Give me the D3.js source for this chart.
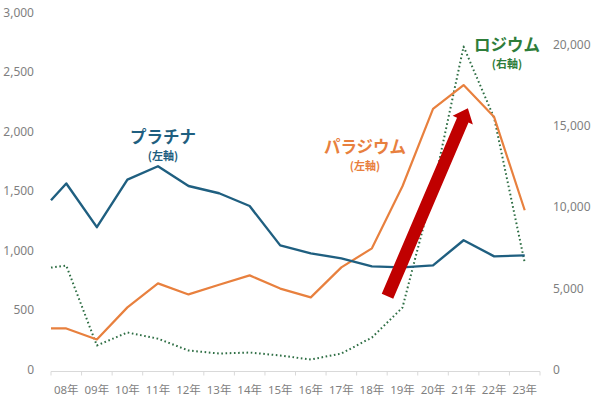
<!DOCTYPE html>
<html>
<head>
<meta charset="utf-8">
<script src="https://cdn.jsdelivr.net/npm/d3@7"></script>
<style>
  html, body { margin: 0; padding: 0; background: #ffffff; }
  svg { display: block; }
  text { font-family: "Noto Sans", "Noto Sans CJK JP", sans-serif; }
</style>
</head>
<body>
<svg id="chart" width="600" height="397"></svg>
<script>
// ---- data ----
const categories = ["08年","09年","10年","11年","12年","13年","14年","15年","16年","17年","18年","19年","20年","21年","22年","23年"];
// first value of each series sits on the left edge of the plot, the rest on the categories
const platinum  = [1422, 1563, 1196, 1595, 1708, 1542, 1481, 1374, 1043, 976, 934, 867, 858, 875, 1086, 951, 959];
const palladium = [345, 345, 252, 522, 724, 631, 712, 791, 680, 606, 858, 1018, 1540, 2190, 2390, 2121, 1338];
const rhodium   = [6280, 6400, 1480, 2280, 1900, 1170, 985, 1046, 862, 615, 985, 1970, 3815, 11080, 19900, 15500, 6580];
const leftTicks  = [0, 500, 1000, 1500, 2000, 2500, 3000];
const rightTicks = [0, 5000, 10000, 15000, 20000];
// arrow: category position (index units) and left-axis value
const arrowFrom = [10.51, 615];
const arrowTo   = [13.14, 2196];

// ---- scales ----
const svg = d3.select("#chart");
const x = d3.scaleBand().domain(categories).range([51, 540]).padding(0);
const yL = d3.scaleLinear().domain([0, 3000]).range([369.5, 12.5]);
const yR = d3.scaleLinear().domain([0, 22000]).range([369.5, 12.5]);
const xIdx = t => x.range()[0] + x.step() * (t + 0.5);
const xPos = i => i === 0 ? x.range()[0] : x(categories[i - 1]) + x.bandwidth() / 2;

const grey = "#7f7f7f";
const axisY = 371.5;

// x axis line and ticks
svg.append("line").attr("x1", x.range()[0]).attr("x2", x.range()[1])
  .attr("y1", axisY).attr("y2", axisY).attr("stroke", "#d9d9d9").attr("stroke-width", 1);
const edges = categories.map(c => x(c)).concat([x.range()[1]]);
svg.selectAll(".xt").data(edges).enter().append("line")
  .attr("x1", d => d).attr("x2", d => d).attr("y1", axisY).attr("y2", axisY + 4)
  .attr("stroke", "#d9d9d9").attr("stroke-width", 1);
svg.selectAll(".xl").data(categories).enter().append("text")
  .attr("x", d => x(d) + x.bandwidth() / 2).attr("y", 393.5)
  .attr("text-anchor", "middle").attr("font-size", 11.5).attr("fill", grey)
  .text(d => d);

// left axis labels
svg.selectAll(".yl").data(leftTicks).enter().append("text")
  .attr("x", 34).attr("y", d => yL(d)).attr("dy", "0.35em")
  .attr("text-anchor", "end").attr("font-size", 12).attr("fill", grey)
  .text(d => d3.format(",")(d));
// right axis labels
svg.selectAll(".yr").data(rightTicks).enter().append("text")
  .attr("x", 553).attr("y", d => yR(d)).attr("dy", "0.35em")
  .attr("text-anchor", "start").attr("font-size", 12).attr("fill", grey)
  .text(d => d3.format(",")(d));

// lines
const lineL = d3.line().x((d, i) => xPos(i)).y(d => yL(d));
const lineR = d3.line().x((d, i) => xPos(i)).y(d => yR(d));

svg.append("path").datum(rhodium).attr("d", lineR)
  .attr("fill", "none").attr("stroke", "#2e6e44").attr("stroke-width", 2)
  .attr("stroke-dasharray", "1.6 2.6").attr("stroke-linejoin", "round");
svg.append("path").datum(palladium).attr("d", lineL)
  .attr("fill", "none").attr("stroke", "#e8803e").attr("stroke-width", 2.2)
  .attr("stroke-linejoin", "round");
svg.append("path").datum(platinum).attr("d", lineL)
  .attr("fill", "none").attr("stroke", "#1f5f80").attr("stroke-width", 2.4)
  .attr("stroke-linejoin", "round");

// arrow
(function () {
  const x0 = xIdx(arrowFrom[0]), y0 = yL(arrowFrom[1]);
  const x1 = xIdx(arrowTo[0]), y1 = yL(arrowTo[1]);
  const dx = x1 - x0, dy = y1 - y0, len = Math.hypot(dx, dy);
  const ux = dx / len, uy = dy / len, px = -uy, py = ux;
  const shaftW = 12.5, headW = 22, headL = 13;
  const bx = x1 - ux * headL, by = y1 - uy * headL;
  const pts = [
    [x0 + px * shaftW / 2, y0 + py * shaftW / 2],
    [bx + px * shaftW / 2, by + py * shaftW / 2],
    [bx + px * headW / 2, by + py * headW / 2],
    [x1, y1],
    [bx - px * headW / 2, by - py * headW / 2],
    [bx - px * shaftW / 2, by - py * shaftW / 2],
    [x0 - px * shaftW / 2, y0 - py * shaftW / 2]
  ];
  svg.append("polygon").attr("points", pts.map(p => p.join(",")).join(" "))
    .attr("fill", "#c00000");
})();

// series labels (two-line labels as one text element)
const labels = [
  {name: "プラチナ", sub: "(左軸)", x: 163, y: 137, color: "#1f5f80"},
  {name: "パラジウム", sub: "(左軸)", x: 365, y: 147, color: "#e8803e"},
  {name: "ロジウム", sub: "(右軸)", x: 507, y: 45, color: "#2e7d3a"}
];
labels.forEach(l => {
  const t = svg.append("text").attr("x", l.x).attr("y", l.y + 6)
    .attr("text-anchor", "middle").attr("font-weight", "bold")
    .attr("fill", l.color).style("font-family", "'Noto Sans CJK JP', sans-serif");
  t.append("tspan").attr("x", l.x).attr("font-size", 16.5).text(l.name);
  t.append("tspan").attr("x", l.x).attr("dy", 16.5).attr("font-size", 11).text(l.sub);
});
</script>
</body>
</html>
